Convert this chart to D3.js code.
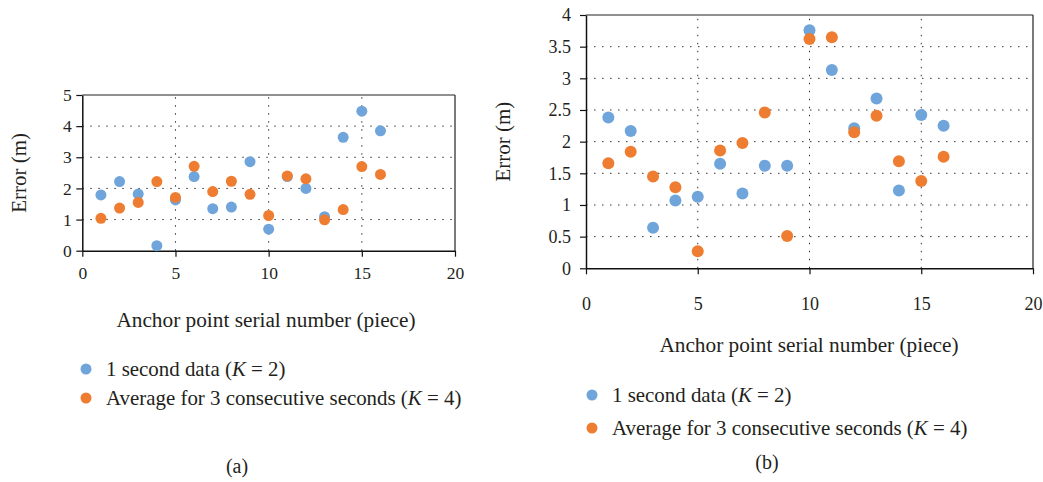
<!DOCTYPE html>
<html>
<head>
<meta charset="utf-8">
<script src="https://cdn.jsdelivr.net/npm/d3@7"></script>
<style>
  body { margin: 0; background: #fff; }
  svg text { font-family: "Liberation Serif", "Times New Roman", serif; fill: #231f20; }
</style>
</head>
<body>
<div id="chart"></div>
<script>
// --------------- Data --------------- //

const serial = [1, 2, 3, 4, 5, 6, 7, 8, 9, 10, 11, 12, 13, 14, 15, 16];
const xTicks = [0, 5, 10, 15, 20];

// panel (a)
const secondA = [1.79, 2.22, 1.82, 0.16, 1.63, 2.38, 1.35, 1.40, 2.86, 0.69, 2.38, 2.00, 1.09, 3.64, 4.48, 3.85];
const averageA = [1.04, 1.37, 1.55, 2.22, 1.71, 2.71, 1.90, 2.23, 1.81, 1.13, 2.40, 2.31, 0.99, 1.32, 2.70, 2.45];
const yTicksA = [0, 1, 2, 3, 4, 5];

// panel (b)
const secondB = [2.38, 2.17, 0.64, 1.07, 1.13, 1.65, 1.18, 1.62, 1.62, 3.76, 3.13, 2.21, 2.68, 1.23, 2.42, 2.25];
const averageB = [1.66, 1.84, 1.45, 1.28, 0.27, 1.86, 1.98, 2.46, 0.51, 3.62, 3.65, 2.15, 2.41, 1.69, 1.38, 1.76];
const yTicksB = [0, 0.5, 1, 1.5, 2, 2.5, 3, 3.5, 4];

const seriesNames = ["1 second data", "Average for 3 consecutive seconds"];
const seriesK = [2, 4];
const colors = ["#6fa5da", "#ee7d31"];

const serifFont = '"Liberation Serif", "Times New Roman", serif';

// --------------- Basic Setup --------------- //

const width = 1043,
    height = 482;

const svg = d3.select("#chart")
    .append("svg")
    .attr("width", width)
    .attr("height", height)
    .style("font-family", serifFont);

// one panel of the figure
function drawPanel(p) {
    const x = d3.scaleLinear().domain([0, 20]).range([p.left, p.right]);
    const y = d3.scaleLinear().domain([0, p.yMax]).range([p.bottom, p.top]);
    const g = svg.append("g");

    // grid
    g.append("g")
        .selectAll("line")
        .data(p.yTicks.filter(d => d > 0 && d < p.yMax))
        .join("line")
        .attr("x1", p.left).attr("x2", p.right)
        .attr("y1", d => y(d)).attr("y2", d => y(d))
        .attr("stroke", "#333")
        .attr("stroke-width", 1)
        .attr("stroke-dasharray", "1.5,6.5");

    g.append("g")
        .selectAll("line")
        .data(xTicks.filter(d => d > 0 && d < 20))
        .join("line")
        .attr("x1", d => x(d)).attr("x2", d => x(d))
        .attr("y1", p.bottom).attr("y2", p.top)
        .attr("stroke", "#333")
        .attr("stroke-width", 1)
        .attr("stroke-dasharray", "1.5,6.5");

    // frame top + right
    g.append("line")
        .attr("x1", p.left).attr("x2", p.right)
        .attr("y1", p.top).attr("y2", p.top)
        .attr("stroke", "#6b6b6b").attr("stroke-width", 1.3);
    g.append("line")
        .attr("x1", p.right).attr("x2", p.right)
        .attr("y1", p.top).attr("y2", p.bottom)
        .attr("stroke", "#333").attr("stroke-width", 1.3);

    // axes
    const fmt = d3.format("~g");
    const yAxis = g.append("g")
        .attr("transform", `translate(${p.left},0)`)
        .call(d3.axisLeft(y).tickValues(p.yTicks).tickFormat(fmt)
            .tickSize(6).tickPadding(p.yPad).tickSizeOuter(0));
    const xAxis = g.append("g")
        .attr("transform", `translate(0,${p.bottom})`)
        .call(d3.axisBottom(x).tickValues(xTicks).tickFormat(fmt)
            .tickSize(6).tickSizeOuter(0));

    [yAxis, xAxis].forEach(a => {
        a.attr("font-family", serifFont);
        a.select(".domain").attr("stroke", "#111").attr("stroke-width", 1.5);
        a.selectAll(".tick line").attr("stroke", "#111").attr("stroke-width", 1.2);
        a.selectAll("text")
            .style("font-family", serifFont)
            .style("font-size", p.tickFont + "px")
            .attr("fill", "#231f20");
    });
    xAxis.selectAll("text").attr("y", p.xLabelOffset).attr("dy", "0.35em");

    // points
    [p.second, p.average].forEach((vals, i) => {
        g.append("g")
            .selectAll("circle")
            .data(serial.map((s, j) => [s, vals[j]]))
            .join("circle")
            .attr("cx", d => x(d[0]))
            .attr("cy", d => y(d[1]))
            .attr("r", p.r)
            .attr("fill", colors[i]);
    });

    // titles
    g.append("text")
        .attr("transform", `translate(${p.yTitleX},${(p.top + p.bottom) / 2}) rotate(-90)`)
        .attr("text-anchor", "middle")
        .attr("dy", "0.35em")
        .style("font-size", "21px")
        .text("Error (m)");

    g.append("text")
        .attr("x", p.xTitleX)
        .attr("y", p.xTitleY)
        .attr("text-anchor", "middle")
        .attr("dy", "0.35em")
        .style("font-size", "21.3px")
        .text("Anchor point serial number (piece)");

    // legend
    seriesNames.forEach((name, i) => {
        const ly = p.legendY[i];
        g.append("circle")
            .attr("cx", p.legendX)
            .attr("cy", ly)
            .attr("r", 5.5)
            .attr("fill", colors[i]);
        const t = g.append("text")
            .attr("x", p.legendX + 20)
            .attr("y", ly)
            .attr("dy", "0.35em")
            .style("font-size", "20.9px");
        t.append("tspan").text(`${name} (`);
        t.append("tspan").attr("font-style", "italic").text("K");
        t.append("tspan").text(` = ${seriesK[i]})`);
    });

    g.append("text")
        .attr("x", p.capX)
        .attr("y", p.capY)
        .attr("text-anchor", "middle")
        .attr("dy", "0.35em")
        .style("font-size", "20px")
        .text(p.caption);
}

drawPanel({
    left: 82.3, right: 455, top: 95, bottom: 250.7,
    yMax: 5, yTicks: yTicksA, second: secondA, average: averageA,
    r: 5.5, tickFont: 17.5, yPad: 4.5, xLabelOffset: 22,
    yTitleX: 19, xTitleX: 266, xTitleY: 320,
    legendX: 86, legendY: [369, 398],
    caption: "(a)", capX: 237, capY: 466
});

drawPanel({
    left: 586, right: 1033, top: 15, bottom: 268.3,
    yMax: 4, yTicks: yTicksB, second: secondB, average: averageB,
    r: 6, tickFont: 18, yPad: 9, xLabelOffset: 35,
    yTitleX: 503, xTitleX: 809, xTitleY: 345,
    legendX: 592, legendY: [395, 428],
    caption: "(b)", capX: 767, capY: 462
});
</script>
</body>
</html>
